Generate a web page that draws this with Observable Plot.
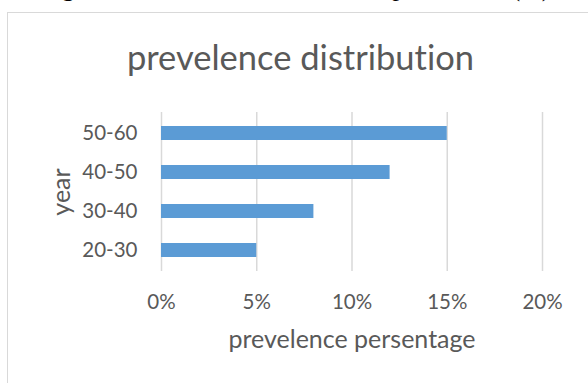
<!DOCTYPE html>
<html>
<head>
<meta charset="utf-8">
<script src="https://cdn.jsdelivr.net/npm/d3@7"></script>
<script src="https://cdn.jsdelivr.net/npm/@observablehq/plot@0.6"></script>
<style>
  html, body { margin:0; padding:0; background:#fff; }
  body { width:588px; height:383px; overflow:hidden; position:relative; font-variant-ligatures:none; }
  #cap { position:absolute; left:40px; top:-27px; font:26px "Liberation Serif", serif; white-space:nowrap; color:#000; }
  #frame { position:absolute; left:7px; top:12px; width:700px; height:500px; border:1.5px solid #d9d9d9; }
  #title { position:absolute; left:0; width:601px; top:36px; text-align:center; font:34.5px Lato, sans-serif; color:#595959; white-space:nowrap; font-variant-ligatures:none; }
  #chart { position:absolute; left:0; top:0; }
  #chart svg text { font-variant-ligatures:none; }
</style>
</head>
<body>
<div id="cap">Figure 1: Distribution of the total prevalence (%)</div>
<div id="frame"></div>
<div id="title">prevelence distribution</div>
<div id="chart"></div>
<script>
const categories = ["20-30", "30-40", "40-50", "50-60"];
const prevalencePct = [5, 8, 12, 15];
const xTicks = [0, 0.05, 0.10, 0.15, 0.20];

const table = categories.map((c, i) => ({ year: c, value: prevalencePct[i] / 100 }));

const chart = Plot.plot({
  width: 588,
  height: 383,
  marginLeft: 161,
  marginRight: 46,
  marginTop: 112,
  marginBottom: 112,
  style: { fontFamily: "Lato, sans-serif", fontSize: "20.5px", color: "#595959", background: "transparent" },
  x: {
    domain: [0, 0.2],
    ticks: xTicks,
    tickFormat: d3.format(".0%"),
    tickSize: 0,
    tickPadding: 23,
    label: "prevelence persentage",
    labelAnchor: "center",
    labelArrow: "none",
    labelOffset: 76
  },
  y: {
    domain: categories.slice().reverse(),
    paddingInner: 0.65,
    paddingOuter: 0.325,
    tickSize: 0,
    tickPadding: 24,
    label: "year",
    labelAnchor: "center",
    labelArrow: "none",
    labelOffset: 109
  },
  marks: [
    Plot.gridX(xTicks, { stroke: "#d9d9d9", strokeOpacity: 1, strokeWidth: 1.5 }),
    Plot.barX(table, { x: "value", y: "year", fill: "#5b9bd5" })
  ]
});
chart.querySelectorAll("[aria-label='x-axis label'] text, [aria-label='y-axis label'] text").forEach(t => t.style.fontSize = "25px");
document.getElementById("chart").appendChild(chart);
</script>
</body>
</html>
